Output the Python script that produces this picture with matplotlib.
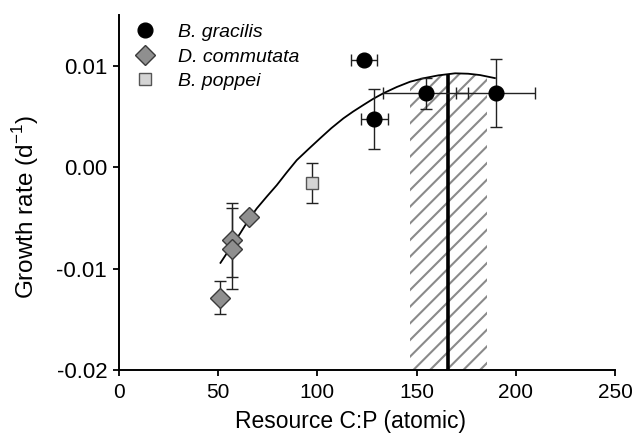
import matplotlib
matplotlib.use("Agg")
import matplotlib.pyplot as plt
from matplotlib.lines import Line2D
from matplotlib.patches import Rectangle

plt.rcParams['font.family'] = ['Liberation Sans', 'DejaVu Sans']
plt.rcParams['axes.unicode_minus'] = False
plt.rcParams['hatch.linewidth'] = 1.5
plt.rcParams['hatch.color'] = '#8a8a8a'

# B. gracilis
bg_x = [123.6, 128.7, 154.7, 189.9]
bg_y = [0.01056, 0.00474, 0.00728, 0.00733]
bg_xerr = [6.5, 6.7, 21.4, 19.9]
bg_yerr = [0.0, 0.00296, 0.00153, 0.00336]

# D. commutata
dc_x = [65.5, 56.8, 57.1, 50.9]
dc_y = [-0.00491, -0.0072, -0.00803, -0.01286]
dc_xerr = [1.5, 1.5, 1.5, 1.5]
dc_yerr = [0.0, 0.00362, 0.00403, 0.0016]

# B. poppei
bp_x = [97.1]
bp_y = [-0.00155]
bp_yerr = [0.00194]

# fitted curve
curve_x = [50.9, 56.0, 61.0, 65.0, 69.4, 74.5, 79.5, 84.5, 89.6, 95.5, 101.3, 107.0,
           113.1, 118.0, 123.1, 128.0, 133.2, 140.0, 146.7, 153.4, 161.0, 169.4, 176.0,
           181.9, 189.9]
curve_y = [-0.00951, -0.00800, -0.00655, -0.00530, -0.00408, -0.00290, -0.00178,
           -0.00053, 0.00069, 0.00178, 0.00283, 0.00384, 0.00481, 0.00548, 0.00612,
           0.00672, 0.00728, 0.00790, 0.00842, 0.00876, 0.00905, 0.00925, 0.00921,
           0.00908, 0.00876]

# optimum and its range
opt_x = 165.7
opt_y = 0.00915
range_lo, range_hi = 146.7, 185.3

fig = plt.figure(figsize=(6.33, 4.36), dpi=100)
ax = fig.add_axes([0.188, 0.1514, 0.9716 - 0.188, 0.9656 - 0.1514])

ymin, ymax = -0.02, 0.015
ax.set_xlim(0, 250)
ax.set_ylim(ymin, ymax)

# hatched range under curve
fb = ax.fill_between(curve_x, ymin, curve_y, facecolor='white', edgecolor='#8a8a8a',
                     hatch='//', linewidth=0, zorder=1)
clip = Rectangle((range_lo, ymin), range_hi - range_lo, ymax - ymin, transform=ax.transData)
fb.set_clip_path(clip)

ax.vlines(opt_x, ymin, opt_y, color='black', lw=2.6, zorder=2)
ax.plot(curve_x, curve_y, color='black', lw=1.3, zorder=3, solid_capstyle='butt')

ekw = dict(ecolor='#222222', elinewidth=1.0, capsize=4, capthick=1.0, linestyle='none')
ax.errorbar(dc_x, dc_y, xerr=dc_xerr, yerr=dc_yerr, marker='D', ms=9.7, mfc='#8f8f8f',
            mec='#3a3a3a', mew=1.0, zorder=4, **ekw)
ax.errorbar(bp_x, bp_y, yerr=bp_yerr, marker='s', ms=8.4, mfc='#d4d4d4', mec='#555555',
            mew=1.0, zorder=4, **ekw)
ax.errorbar(bg_x, bg_y, xerr=bg_xerr, yerr=bg_yerr, marker='o', ms=10.6, mfc='black',
            mec='black', zorder=5, **ekw)

for s in ['top', 'right']:
    ax.spines[s].set_visible(False)
for s in ['left', 'bottom']:
    ax.spines[s].set_linewidth(1.4)

ax.set_xticks([0, 50, 100, 150, 200, 250])
ax.set_yticks([-0.02, -0.01, 0.0, 0.01])
ax.set_yticklabels(['-0.02', '-0.01', '0.00', '0.01'])
ax.tick_params(direction='out', length=4, width=1.3)
ax.tick_params(axis='x', labelsize=15, pad=5.5)
ax.tick_params(axis='y', labelsize=16, pad=4.5)

ax.set_xlabel('Resource C:P (atomic)', fontsize=16.5)
ax.set_ylabel('Growth rate (d$^{\\mathregular{-1}}$)', fontsize=17.5)
ax.xaxis.set_label_coords(0.467, -0.113)
ax.yaxis.set_label_coords(-0.158, 0.458)

handles = [
    Line2D([], [], marker='o', ms=10.6, mfc='black', mec='black', ls='none'),
    Line2D([], [], marker='D', ms=9.7, mfc='#8f8f8f', mec='#3a3a3a', ls='none'),
    Line2D([], [], marker='s', ms=8.4, mfc='#d4d4d4', mec='#555555', ls='none'),
]
labels = ['B. gracilis', 'D. commutata', 'B. poppei']
leg = ax.legend(handles, labels, loc='upper left', bbox_to_anchor=(-0.014, 1.015), frameon=False,
                prop={'style': 'italic', 'size': 14}, handletextpad=0.7, labelspacing=0.36,
                borderaxespad=0.3)

fig.savefig('out.png', dpi=100)
